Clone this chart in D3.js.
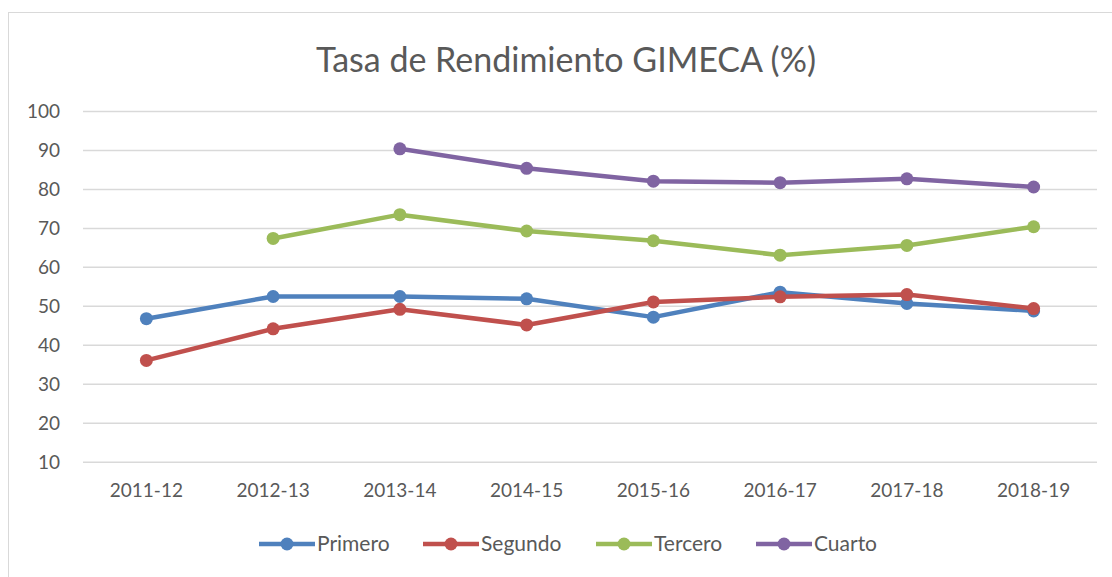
<!DOCTYPE html>
<html>
<head>
<meta charset="utf-8">
<script src="https://cdn.jsdelivr.net/npm/d3@7"></script>
<style>
  html, body { margin: 0; padding: 0; background: #fff; }
  svg { display: block; }
  text { font-family: Lato, "Open Sans", sans-serif; fill: #595959; }
</style>
</head>
<body>
<svg id="chart" width="1112" height="577"></svg>
<script>
const categories = ["2011-12", "2012-13", "2013-14", "2014-15", "2015-16", "2016-17", "2017-18", "2018-19"];
const primero = [46.7, 52.4, 52.4, 51.8, 47.1, 53.5, 50.6, 48.7];
const segundo = [36.0, 44.1, 49.1, 45.1, 51.0, 52.3, 52.9, 49.3];
const tercero = [null, 67.3, 73.4, 69.2, 66.7, 63.0, 65.5, 70.3];
const cuarto = [null, null, 90.3, 85.3, 82.0, 81.6, 82.6, 80.5];
const seriesNames = ["Primero", "Segundo", "Tercero", "Cuarto"];
const seriesColors = ["#4F81BD", "#C0504D", "#9BBB59", "#8064A2"];
const yTicks = [10, 20, 30, 40, 50, 60, 70, 80, 90, 100];
const title = "Tasa de Rendimiento GIMECA (%)";

const seriesData = [primero, segundo, tercero, cuarto];

const svg = d3.select("#chart");

// chart frame
svg.append("rect")
  .attr("x", 8.5).attr("y", 12.5)
  .attr("width", 1120).attr("height", 600)
  .attr("fill", "#fff").attr("stroke", "#d9d9d9").attr("stroke-width", 1);

const plot = { left: 83, right: 1097, top: 111, bottom: 461.7 };

const x = d3.scaleBand().domain(categories).range([plot.left, plot.right]);
const y = d3.scaleLinear().domain([10, 100]).range([plot.bottom, plot.top]);

// title
svg.append("text")
  .attr("x", 566).attr("y", 72)
  .attr("text-anchor", "middle")
  .style("font-size", "34px")
  .style("fill", "#595959")
  .text(title);

// gridlines
const yAxis = d3.axisLeft(y).tickValues(yTicks).tickSize(-(plot.right - plot.left)).tickPadding(23).tickFormat(d3.format("d"));
const gy = svg.append("g").attr("transform", `translate(${plot.left},0)`).call(yAxis);
gy.select(".domain").remove();
gy.selectAll(".tick line").attr("stroke", "#d9d9d9").attr("stroke-width", 1.5);
gy.selectAll(".tick text").style("font-size", "19px").style("fill", "#595959").attr("dy", "0.35em");

// x axis labels
const xAxis = d3.axisBottom(x).tickSize(0).tickPadding(0);
const gx = svg.append("g").attr("transform", `translate(0,${plot.bottom + 18})`).call(xAxis);
gx.select(".domain").remove();
gx.selectAll(".tick text").style("font-size", "19px").style("fill", "#595959").attr("dy", "0.9em");

// lines
const line = d3.line()
  .defined(d => d.v !== null)
  .x(d => x(d.c) + x.bandwidth() / 2)
  .y(d => y(d.v));

seriesData.forEach((vals, i) => {
  const pts = categories.map((c, j) => ({ c, v: vals[j] }));
  svg.append("path")
    .datum(pts)
    .attr("fill", "none")
    .attr("stroke", seriesColors[i])
    .attr("stroke-width", 4.5)
    .attr("stroke-linejoin", "round")
    .attr("d", line);
  svg.append("g").selectAll("circle")
    .data(pts.filter(d => d.v !== null))
    .join("circle")
    .attr("cx", d => x(d.c) + x.bandwidth() / 2)
    .attr("cy", d => y(d.v))
    .attr("r", 6.5)
    .attr("fill", seriesColors[i]);
});

// legend
const legendX = [259, 423, 596, 756];
const legendY = 544;
seriesNames.forEach((name, i) => {
  const g = svg.append("g").attr("transform", `translate(${legendX[i]},${legendY})`);
  g.append("line").attr("x1", 0).attr("x2", 56).attr("y1", 0).attr("y2", 0)
    .attr("stroke", seriesColors[i]).attr("stroke-width", 4.5);
  g.append("circle").attr("cx", 28).attr("cy", 0).attr("r", 6.5).attr("fill", seriesColors[i]);
  g.append("text").attr("x", 58).attr("y", 0).attr("dy", "0.35em")
    .style("font-size", "21px").style("fill", "#595959").text(name);
});
</script>
</body>
</html>
